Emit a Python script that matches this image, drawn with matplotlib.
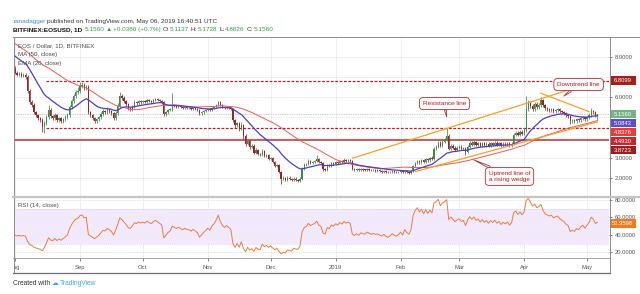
import numpy as np
import pandas as pd
import matplotlib
matplotlib.use('Agg')
import matplotlib.pyplot as plt
import matplotlib.dates as mdates
from matplotlib.lines import Line2D
from matplotlib.patches import Rectangle
from matplotlib.transforms import Bbox

plt.rcParams['font.family'] = ['Liberation Sans', 'DejaVu Sans']

# ---------------- data ----------------
# closes 2018-06-12 .. 2018-07-31, only used to warm up the indicators
pre_closes = [10.6, 10.2, 10.9, 10.5, 10.4, 10.2, 10.5, 10.6, 10.1, 9.8,
              9.6, 8.9, 8.3, 8.5, 8.2, 8.1, 7.9, 8.4, 8.6, 8.4,
              8.0, 8.6, 8.2, 8.9, 8.3, 8.0, 8.5, 7.9, 8.3, 8.7,
              8.1, 8.4, 7.8, 8.2, 8.6, 8.1, 8.5, 7.9, 8.4, 8.8,
              8.2, 8.6, 8.0, 8.5, 8.1, 7.7, 8.2, 7.8, 7.6, 7.4]

aug_close = [7.20, 7.10, 7.15, 7.05, 7.10, 7.00, 6.30, 5.75, 5.60, 5.25, 5.10, 4.95, 4.85, 4.50, 4.70, 5.00,
             5.35, 5.05, 4.95, 5.10, 4.85, 4.95, 4.80, 4.90, 5.00, 5.10, 5.50, 5.80, 6.05, 6.25, 6.30]
sep_close = [6.55, 6.60, 6.45, 6.50, 5.25, 5.10, 4.95, 4.80, 4.90, 5.00, 5.15, 5.30, 5.25, 5.40, 5.30,
             5.20, 4.95, 5.20, 5.55, 6.05, 5.95, 5.80, 5.65, 5.45, 5.40, 5.55, 5.75, 5.70, 5.80, 5.75]
oct_close = [5.80, 5.75, 5.85, 5.80, 5.75, 5.85, 5.90, 5.85, 5.80, 5.75, 5.15, 5.25, 5.35, 5.40, 5.60, 5.55,
             5.50, 5.55, 5.50, 5.45, 5.50, 5.45, 5.45, 5.40, 5.45, 5.40, 5.35, 5.20, 5.25, 5.30, 5.35]
nov_close = [5.40, 5.35, 5.45, 5.50, 5.60, 5.75, 5.60, 5.50, 5.45, 5.50, 5.45, 5.40, 4.85, 4.60, 4.70,
             4.45, 4.60, 4.10, 3.70, 3.85, 3.55, 3.60, 3.25, 3.40, 3.20, 3.15, 3.35, 3.10, 3.15, 2.95]
dec_close = [3.00, 2.80, 2.60, 2.65, 2.30, 1.95, 2.00, 1.92, 2.02, 1.95, 1.90, 1.98, 1.92, 1.88, 1.97, 2.45,
             2.65, 2.70, 2.85, 2.75, 2.80, 2.85, 2.95, 2.80, 2.75, 2.45, 2.40, 2.65, 2.60, 2.75, 2.70]
jan_close = [2.80, 2.75, 2.85, 2.80, 2.90, 2.85, 2.88, 2.85, 2.45, 2.40, 2.45, 2.38, 2.45, 2.42, 2.40, 2.45,
             2.42, 2.38, 2.40, 2.37, 2.38, 2.35, 2.32, 2.35, 2.30, 2.28, 2.30, 2.33, 2.30, 2.28, 2.30]
feb_close = [2.33, 2.28, 2.35, 2.30, 2.27, 2.33, 2.60, 2.75, 2.85, 2.78, 2.88, 2.80, 2.95, 2.88,
             3.00, 2.95, 3.45, 3.55, 3.75, 3.60, 3.80, 3.90, 4.10, 3.45, 3.60, 3.50, 3.40, 3.50]
mar_close = [3.55, 3.45, 3.50, 3.30, 3.55, 3.75, 3.65, 3.78, 3.65, 3.72, 3.60, 3.72, 3.62, 3.70, 3.60, 3.72,
             3.65, 3.75, 3.65, 3.72, 3.62, 3.70, 3.65, 3.72, 3.62, 3.70, 4.15, 4.25, 4.15, 4.28, 4.20]
apr_close = [4.35, 5.40, 5.70, 5.55, 5.40, 5.65, 5.50, 5.60, 5.85, 5.60, 5.45, 5.40, 5.35, 5.40, 5.30,
             5.35, 5.40, 5.30, 5.25, 5.20, 5.10, 5.05, 4.80, 4.85, 4.80, 4.90, 4.85, 4.95, 5.00, 4.90]
may_close = [5.00, 5.10, 5.30, 5.25, 5.1137, 5.1560]

# wick lengths above / below the candle body, in hundredths of a dollar
aug_up = [15, 8, 10, 8, 10, 8, 10, 12, 10, 10, 8, 8, 8, 10, 10, 12, 25, 10, 8, 10, 8, 8, 8, 8, 10, 10, 12, 10, 10, 12, 20]
aug_dn = [8, 8, 8, 8, 8, 10, 10, 10, 10, 10, 8, 10, 10, 20, 25, 10, 10, 10, 8, 8, 10, 8, 10, 8, 8, 8, 8, 8, 8, 8, 8]
sep_up = [20, 15, 10, 12, 10, 8, 8, 8, 8, 8, 10, 10, 8, 10, 8, 8, 8, 10, 15, 20, 10, 10, 8, 8, 8, 8, 10, 8, 8, 8]
sep_dn = [8, 8, 10, 8, 10, 10, 10, 10, 8, 8, 8, 8, 8, 8, 8, 8, 10, 8, 8, 8, 10, 8, 8, 8, 10, 8, 8, 8, 8, 8]
oct_up = [8, 8, 8, 6, 6, 8, 8, 6, 6, 6, 6, 8, 6, 8, 60, 8, 6, 6, 6, 6, 6, 6, 6, 6, 6, 6, 6, 6, 6, 6, 6]
oct_dn = [6, 6, 6, 6, 6, 6, 6, 6, 6, 8, 10, 8, 6, 6, 8, 6, 6, 6, 6, 6, 6, 6, 6, 6, 6, 6, 6, 8, 6, 6, 6]
nov_up = [6, 6, 8, 6, 8, 8, 6, 6, 6, 6, 6, 6, 6, 6, 6, 6, 15, 6, 8, 10, 6, 8, 6, 10, 6, 6, 10, 6, 6, 6]
nov_dn = [6, 6, 6, 6, 6, 6, 6, 6, 6, 6, 6, 6, 10, 15, 10, 10, 8, 15, 10, 8, 10, 8, 8, 6, 8, 8, 6, 8, 8, 8]
dec_up = [6, 6, 6, 6, 6, 6, 8, 6, 6, 6, 6, 6, 6, 6, 6, 8, 8, 6, 8, 6, 6, 6, 20, 6, 6, 6, 6, 6, 6, 6, 6]
dec_dn = [6, 6, 6, 6, 6, 25, 6, 6, 6, 6, 6, 6, 6, 8, 6, 6, 6, 6, 6, 6, 6, 6, 6, 6, 6, 8, 6, 6, 6, 6, 6]
jan_up = [6, 6, 6, 6, 8, 6, 6, 6, 6, 6, 6, 5, 5, 5, 5, 5, 5, 5, 5, 5, 5, 5, 5, 5, 5, 5, 5, 5, 5, 5, 5]
jan_dn = [5, 5, 5, 5, 5, 5, 5, 5, 6, 5, 5, 5, 5, 5, 5, 5, 5, 5, 5, 5, 5, 5, 5, 5, 5, 5, 5, 5, 5, 5, 5]
feb_up = [5, 5, 5, 5, 5, 5, 6, 6, 6, 6, 6, 6, 6, 6, 6, 8, 10, 8, 10, 8, 10, 10, 35, 8, 8, 8, 8, 8]
feb_dn = [5, 5, 5, 5, 5, 5, 5, 6, 6, 6, 6, 6, 6, 6, 6, 6, 6, 8, 8, 8, 8, 8, 8, 8, 8, 8, 8, 8]
mar_up = [8, 8, 6, 6, 8, 10, 8, 8, 6, 6, 6, 6, 6, 6, 6, 6, 6, 6, 6, 8, 6, 6, 6, 6, 6, 6, 10, 10, 8, 8, 8]
mar_dn = [8, 8, 8, 15, 8, 8, 6, 6, 6, 6, 6, 6, 6, 6, 6, 6, 6, 6, 6, 6, 6, 6, 6, 6, 6, 6, 6, 8, 8, 8, 8]
apr_up = [10, 65, 15, 10, 10, 10, 10, 10, 15, 8, 8, 8, 8, 8, 8, 8, 8, 8, 8, 8, 8, 8, 8, 8, 8, 8, 8, 8, 8, 8]
apr_dn = [8, 8, 10, 10, 10, 10, 10, 8, 8, 8, 8, 8, 8, 8, 8, 8, 8, 8, 8, 8, 8, 8, 15, 8, 8, 8, 8, 8, 8, 8]
may_up = [6, 10, 16, 8, 8, 1.68]
may_dn = [6, 6, 6, 8, 10, 23.11]

# horizontal levels, trend lines, notes
level_values = [6.8099, 4.4930, 3.8723]
level_starts = ['2018-08-16', '2018-08-16', '2018-07-31']
level_dashed = [True, True, False]
trend_x0 = ['2019-01-09', '2019-02-08', '2019-04-09']
trend_y0 = [2.98, 2.32, 6.19]
trend_x1 = ['2019-05-02', '2019-05-06', '2019-05-02']
trend_y1 = [6.67, 4.78, 5.28]
note_texts = ['Resistance line', 'Uptrend line of\na rising wedge', 'Downtrend line']
note_pos_x = ['2019-02-22', '2019-03-25', '2019-04-27']
note_pos_y = [5.68, 2.08, 6.62]
note_tip_x = ['2019-02-23', '2019-03-08', '2019-04-20']
note_tip_y = [5.02, 2.90, 6.05]

# price-scale badges: value, colour
badge_values = [6.8099, 5.1560, 5.0843, 4.8376, 4.4930, 3.8723]
badge_colors = ['#a51e1e', '#74b383', '#5d4fc6', '#ec3b35', '#c4282a', '#9b1d1d']
last_price = 5.1560
rsi_last = 52.9598
price_ticks = [2, 3, 6, 8]
price_grid = [2, 3, 4, 5, 6, 7, 8]
rsi_ticks = [20, 40, 60, 80]
month_labels = ['Aug', 'Sep', 'Oct', 'Nov', 'Dec', '2019', 'Feb', 'Mar', 'Apr', 'May']

# ---------------- derived series ----------------
close = np.array(aug_close + sep_close + oct_close + nov_close + dec_close + jan_close +
                 feb_close + mar_close + apr_close + may_close)
wick_up = np.array(aug_up + sep_up + oct_up + nov_up + dec_up + jan_up + feb_up + mar_up + apr_up + may_up) / 100
wick_dn = np.array(aug_dn + sep_dn + oct_dn + nov_dn + dec_dn + jan_dn + feb_dn + mar_dn + apr_dn + may_dn) / 100
dates = pd.date_range('2018-08-01', periods=len(close), freq='D')
pre_dates = pd.date_range(end='2018-07-31', periods=len(pre_closes), freq='D')
all_close = pd.Series(list(pre_closes) + list(close), index=pre_dates.append(dates))
ma50 = all_close.rolling(50).mean()[dates].values
ema20 = all_close.ewm(span=20, adjust=False).mean()[dates].values
delta = all_close.diff()
gain = delta.clip(lower=0).ewm(alpha=1 / 14, adjust=False).mean()
loss = (-delta.clip(upper=0)).ewm(alpha=1 / 14, adjust=False).mean()
rsi = (100 - 100 / (1 + gain / loss))[dates].values
open_ = all_close.shift(1)[dates].values
high = np.maximum(open_, close) + wick_up
low = np.minimum(open_, close) - wick_dn

# ---------------- figure ----------------
W, H = 640, 294
fig = plt.figure(figsize=(W / 100, H / 100), dpi=100)
fig.patch.set_facecolor('white')


def fx(px):
    return px / W


def fy(py):
    return 1 - py / H


L, R = 14, 609
ax = fig.add_axes([fx(L), fy(197), (R - L) / W, 160 / H])
axr = fig.add_axes([fx(L), fy(258), (R - L) / W, 60 / H], sharex=ax)

xd = mdates.date2num(dates)
x0 = mdates.date2num(pd.Timestamp('2018-08-01'))
for a in (ax, axr):
    a.set_xlim(x0 - 0.5, x0 + 283.5)
    for s in a.spines.values():
        s.set_visible(False)
    a.set_facecolor('none')
ax.set_ylim(1.067, 8.968)
axr.set_ylim(13.46, 82.3)

GRID = '#ececec'
TXT = '#555555'
month_starts = pd.date_range('2018-08-01', '2019-05-01', freq='MS')
for m in mdates.date2num(month_starts):
    ax.axvline(m, color=GRID, lw=0.6, zorder=0)
    axr.axvline(m, color=GRID, lw=0.6, zorder=0)
for p in price_grid:
    ax.axhline(p, color=GRID, lw=0.6, zorder=0)

# levels
for v, st, dashed in zip(level_values, level_starts, level_dashed):
    xs = mdates.date2num(pd.Timestamp(st))
    if dashed:
        ax.plot([xs, x0 + 290], [v, v], color='#a8232a', lw=0.9, ls=(0, (2.2, 1.3)), zorder=1)
    else:
        ax.plot([xs, x0 + 290], [v, v], color='#a33a3a', lw=1.1, zorder=1)

ax.axhline(last_price, color='#9a9a9a', lw=0.5, ls=(0, (1, 1.5)), zorder=1)

# candles
UP, DN = '#3d8a4e', '#98242a'
cols = np.where(close >= open_, UP, DN)
ax.vlines(xd, low, high, colors=cols, lw=0.55, zorder=3)
body = np.maximum(np.abs(close - open_), 0.025)
ax.bar(xd, body, bottom=np.minimum(open_, close), width=0.62, color=cols, linewidth=0, zorder=4)

# moving averages
ax.plot(xd, ma50, color='#ee5b57', lw=0.7, zorder=5)
ax.plot(xd, ema20, color='#4f3fc0', lw=0.9, zorder=5)

# trend lines
for a0, b0, a1, b1 in zip(trend_x0, trend_y0, trend_x1, trend_y1):
    ax.plot(mdates.date2num(pd.to_datetime([a0, a1])), [b0, b1], color='#f5a02a', lw=0.9, zorder=6)

# notes
for t, px_, py_, tx, ty in zip(note_texts, note_pos_x, note_pos_y, note_tip_x, note_tip_y):
    ax.annotate(t, xy=(mdates.date2num(pd.Timestamp(tx)), ty),
                xytext=(mdates.date2num(pd.Timestamp(px_)), py_),
                ha='center', va='center', fontsize=4.6, color='#9c2a30', zorder=8,
                bbox=dict(boxstyle='round,pad=0.55,rounding_size=0.6', fc='#fff8f8', ec='#a8343a', lw=0.6),
                arrowprops=dict(arrowstyle='wedge,tail_width=0.35,shrink_factor=0.5', fc='#fff8f8',
                                ec='#a8343a', lw=0.6, shrinkA=0, shrinkB=0))

# ticks
ax.yaxis.tick_right()
axr.yaxis.tick_right()
ax.set_yticks(price_ticks)
ax.set_yticklabels([f'{v:.4f}' for v in price_ticks])
axr.set_yticks(rsi_ticks)
axr.set_yticklabels([f'{v:.4f}' for v in rsi_ticks])
for a in (ax, axr):
    a.tick_params(axis='y', labelsize=4.2, colors=TXT, length=2.5, width=0.5, pad=1.5)
ax.tick_params(axis='x', bottom=False, labelbottom=False)
axr.set_xticks(mdates.date2num(month_starts))
axr.set_xticklabels(month_labels)
axr.tick_params(axis='x', labelsize=4.2, colors=TXT, length=2, width=0.5, pad=3.2)
for lab in axr.get_xticklabels():
    lab.set_clip_box(Bbox([[L, 0], [R, H]]))
    lab.set_clip_on(True)

# RSI panel
axr.axhspan(30, 70, color='#f2e9fc', zorder=0, lw=0)
for lv in (30, 70):
    axr.axhline(lv, color='#d2c2e8', lw=0.4, ls=(0, (2, 1.5)), zorder=1)
for lv in rsi_ticks:
    axr.axhline(lv, color=GRID, lw=0.6, zorder=0)
axr.plot(xd, rsi, color='#ec7d45', lw=0.7, zorder=3)

# legends inside panels
leg_kw = dict(fontsize=4.4, color='#4a4a4a', ha='left', va='center')
fig.text(fx(18), fy(45.7), 'EOS / Dollar, 1D, BITFINEX', **leg_kw)
fig.text(fx(18), fy(54.3), 'MA (50, close)', **leg_kw)
fig.text(fx(18), fy(63.3), 'EMA (20, close)', **leg_kw)
fig.text(fx(18), fy(205), 'RSI (14, close)', **leg_kw)

# frame lines
BORDER = '#8c8c8c'


def fline(x_a, y_a, x_b, y_b, c=BORDER, lw=0.7):
    fig.add_artist(Line2D([fx(x_a), fx(x_b)], [fy(y_a), fy(y_b)], color=c, lw=lw, transform=fig.transFigure))


fline(13, 37, 640, 37)
fline(13.5, 37, 13.5, 273)
fline(609.5, 37, 609.5, 273)
fline(13, 197.3, 640, 197.3, c='#c4c4c4', lw=1.6)
fline(13, 258, 609.5, 258, c='#9a9a9a', lw=0.6)
fline(13, 272.7, 609.5, 272.7, c='#6e6e6e', lw=0.9)

# badges on the price scale (stacked so they do not overlap)
fig.canvas.draw()
ys = []
prev = -1e9
for v in badge_values:
    yp = H - ax.transData.transform((x0, v))[1]
    yp = max(yp, prev + 9.0)
    ys.append(yp)
    prev = yp


def badge(yc, txt, color):
    fig.add_artist(Rectangle((fx(610), fy(yc + 4.3)), 25.5 / W, 8.6 / H, transform=fig.transFigure,
                             fc=color, ec='none'))
    fig.text(fx(622.7), fy(yc), txt, color='white', fontsize=4.2, ha='center', va='center')


for v, c, yc in zip(badge_values, badge_colors, ys):
    badge(yc, f'{v:.4f}', c)
yr = H - axr.transData.transform((x0, rsi_last))[1]
badge(yr, f'{rsi_last:.4f}', '#f27a1c')

# header
renderer = fig.canvas.get_renderer()


def pieces(x_px, y_px, parts, size=4.6):
    x = x_px
    for txt, color, weight, gap in parts:
        t = fig.text(fx(x), fy(y_px), txt, color=color, fontsize=size, fontweight=weight,
                     ha='left', va='center')
        x += t.get_window_extent(renderer).width + gap


G = '#35a04a'
K = '#333333'
pieces(13.3, 21.7, [('ranadagger', '#3b8fd6', 'normal', 1.3),
                    ('published on TradingView.com, May 06, 2019 16:40:51 UTC', K, 'normal', 0)])
pieces(13.3, 29.4, [('BITFINEX:EOSUSD, 1D', '#111111', 'bold', 2.2), ('5.1560', G, 'normal', 1.3),
                    ('\u25b2', G, 'normal', 1.3), ('+0.0380 (+0.7%)', G, 'normal', 1.6),
                    ('O:', K, 'normal', 0.8), ('5.1137', G, 'normal', 1.6),
                    ('H:', K, 'normal', 0.8), ('5.1728', G, 'normal', 1.6),
                    ('L:', K, 'normal', 0.8), ('4.8826', G, 'normal', 1.6),
                    ('C:', K, 'normal', 0.8), ('5.1560', G, 'normal', 0)])

# footer
pieces(13.3, 283.5, [('Created with', '#333333', 'normal', 1.5), ('\u2601', '#3fa9e3', 'normal', 1.0),
                     ('TradingView', '#3fa9e3', 'normal', 0)], size=4.8)

fig.savefig('out.png', dpi=100)
